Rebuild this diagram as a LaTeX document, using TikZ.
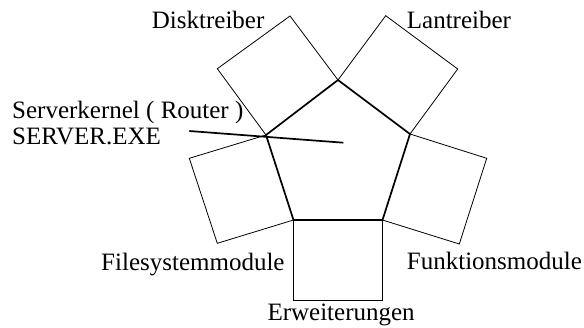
\documentclass[tikz,border=0pt]{standalone}
\usepackage{fontspec}
\setmainfont{Liberation Serif}
\usepackage{tikz}
\usetikzlibrary{calc,positioning}
\tikzset{
    modul/.style={draw,line width=0.8pt,line join=miter},
    kern/.style={draw,line width=1.7pt,line join=miter},
    beschr/.style={inner sep=0pt,anchor=base west,font=\fontsize{25}{28}\selectfont}
}

\begin{document}
\begin{tikzpicture}[x=1pt,y=-1pt]
                    \useasboundingbox (0,0) rectangle (584,327);
                    % Ecken des Kerns
                    \coordinate (k0) at (338,80);
                    \coordinate (k1) at (410,134);
                    \coordinate (k2) at (382.5,220);
                    \coordinate (k3) at (293.5,220);
                    \coordinate (k4) at (266,135);
                    % Module aussen
                    \path[modul] (k4) -- (217.3,68.7) -- (290,16) -- (k0);
                    \path[modul] (k0) -- (385.7,15.7) -- (457.7,69) -- (k1);
                    \path[modul] (k1) -- (486.7,158.3) -- (459.3,244) -- (k2);
                    \path[modul] (k2) -- (382.5,300) -- (293.5,300) -- (k3);
                    \path[modul] (k3) -- (217.3,243.3) -- (189.3,158.3) -- (k4);
                    \path[kern] (k0) -- (k1) -- (k2) -- (k3) -- (k4) -- cycle;
                    % Beschriftungen
                    \node[beschr] (disk) at (151.7,28.3) {Disktreiber};
                    \node[beschr] (lan) at (406.7,28.3) {Lantreiber};
                    \node[beschr] (fsm) at (101,270) {Filesystemmodule};
                    \node[beschr] (fkt) at (406.7,269) {Funktionsmodule};
                    \node[beschr] (erw) at (267.3,320) {Erweiterungen};
                    \node[beschr] (kernel) at (12,118.3) {Serverkernel ( Router )};
                    \node[beschr] (exe) at (12,144) {SERVER.EXE};
                    \coordinate (zeiger) at (189.3,131);
                    \coordinate (mitte) at (343.3,142.7);
                    \path[kern] (zeiger) -- (mitte);
                \end{tikzpicture}
\end{document}
